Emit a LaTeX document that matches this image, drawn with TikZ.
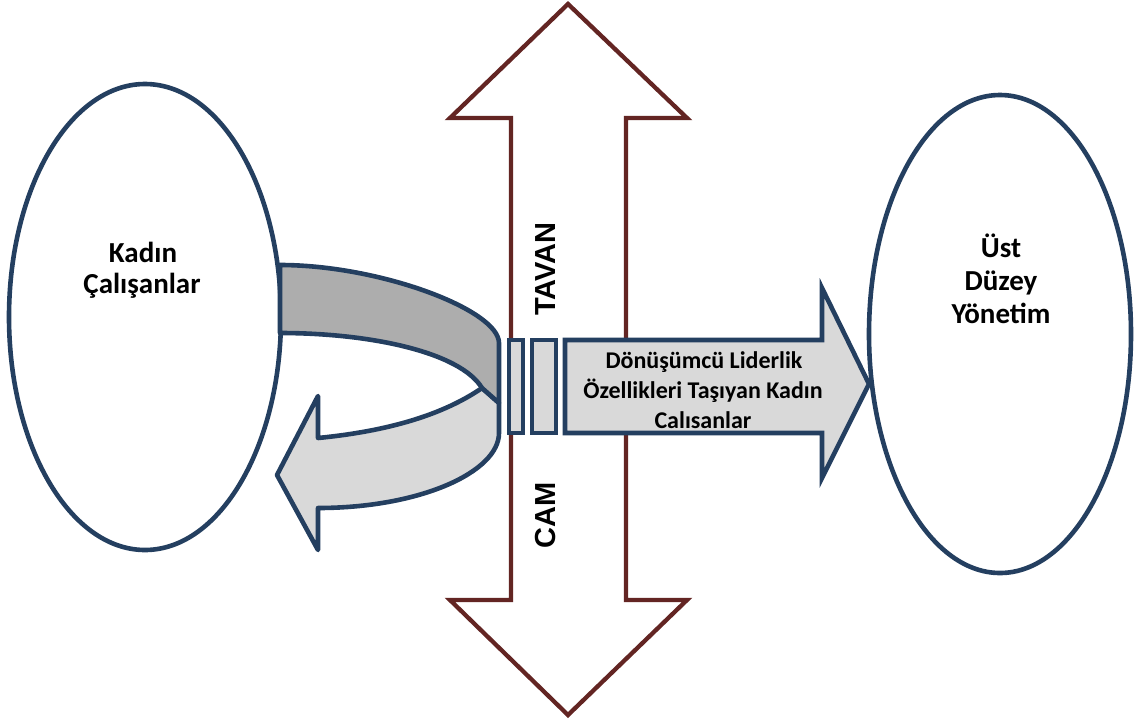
\documentclass[tikz,border=0pt]{standalone}
\usepackage{fontspec}
\setmainfont{Carlito}
\newfontfamily\glassfont{Liberation Sans}
\usetikzlibrary{shapes.geometric}

\definecolor{navy}{HTML}{243F60}
\definecolor{wine}{HTML}{632523}
\definecolor{bandtop}{HTML}{ADADAD}
\definecolor{bandlow}{HTML}{D9D9D9}

\tikzset{
  outline/.style={draw=navy, line width=4.6pt},
  blob/.style={ellipse, outline, fill=white, inner sep=0pt},
  label/.style={font=\fontsize{29}{33}\selectfont\bfseries, anchor=base, inner sep=0pt},
  arrowtext/.style={font=\fontsize{24}{29}\selectfont\bfseries, anchor=base, inner sep=0pt},
  glass/.style={font=\glassfont\fontsize{29}{30}\selectfont\bfseries, rotate=90, inner sep=0pt},
  slab/.style={outline, fill=bandlow}
}

\begin{document}
\begin{tikzpicture}[x=1pt, y=-1pt]
\useasboundingbox (0,0) rectangle (1136,721);

% glass ceiling: vertical double arrow
\draw[wine, line width=4.3pt, fill=white, line join=miter]
  (568,4) -- (687,118) -- (626,118) -- (626,600) -- (687,600) -- (568,715)
  -- (450,600) -- (511,600) -- (511,118) -- (450,118) -- cycle;

% the two groups
\node[blob, minimum width=272pt, minimum height=466pt] (kadin) at (145,317) {};
\node[blob, minimum width=262pt, minimum height=478pt] (ust) at (1000,334) {};

% turning-back ribbon, lower (light) part with its arrow head
\draw[slab, line join=round]
  (482,388) -- (499,403) -- (499,433)
  .. controls (499,472) and (420,508) .. (318,508)
  -- (318,550) -- (277,475) -- (318,396) -- (318,438)
  .. controls (400,430) and (450,410) .. (482,388) -- cycle;

% turning-back ribbon, upper (dark) part
\draw[outline, fill=bandtop, line join=round]
  (280,265) .. controls (380,265) and (499,310) .. (499,343)
  -- (499,403) -- (482,388)
  .. controls (460,352) and (370,333) .. (280,333) -- cycle;

% slices passing through the glass
\node[slab, minimum width=14pt, minimum height=93pt, inner sep=0pt] (sliceA) at (516,386.5) {};
\node[slab, minimum width=24pt, minimum height=93pt, inner sep=0pt] (sliceB) at (544,386.5) {};

% arrow reaching top management
\coordinate (r1) at (565,340);
\coordinate (r2) at (822,340);
\coordinate (r3) at (822,288);
\coordinate (r4) at (869,384);
\coordinate (r5) at (822,478);
\coordinate (r6) at (822,433);
\coordinate (r7) at (565,433);
\fill[bandlow] (r1) -- (r2) -- (r3) -- (r4) -- (r5) -- (r6) -- (r7) -- cycle;
\node[arrowtext] (t1) at (704,368) {Dönüşümcü Liderlik};
\node[arrowtext] (t2) at (703,398) {Özellikleri Taşıyan Kadın};
\node[arrowtext] (t3) at (703,428) {Calısanlar};
\draw[outline, line join=miter] (r1) -- (r2) -- (r3) -- (r4) -- (r5) -- (r6) -- (r7) -- cycle;

% group labels
\node[label] (k1) at (143,262) {Kadın};
\node[label] (k2) at (142,293) {Çalışanlar};
\node[label] (u1) at (1001,257) {Üst};
\node[label] (u2) at (1001,290) {Düzey};
\node[label] (u3) at (1001,323) {Yönetim};

% words on the glass
\node[glass] (tavan) at (546,269) {TAVAN};
\node[glass] (cam) at (546,515) {CAM};
\end{tikzpicture}
\end{document}
